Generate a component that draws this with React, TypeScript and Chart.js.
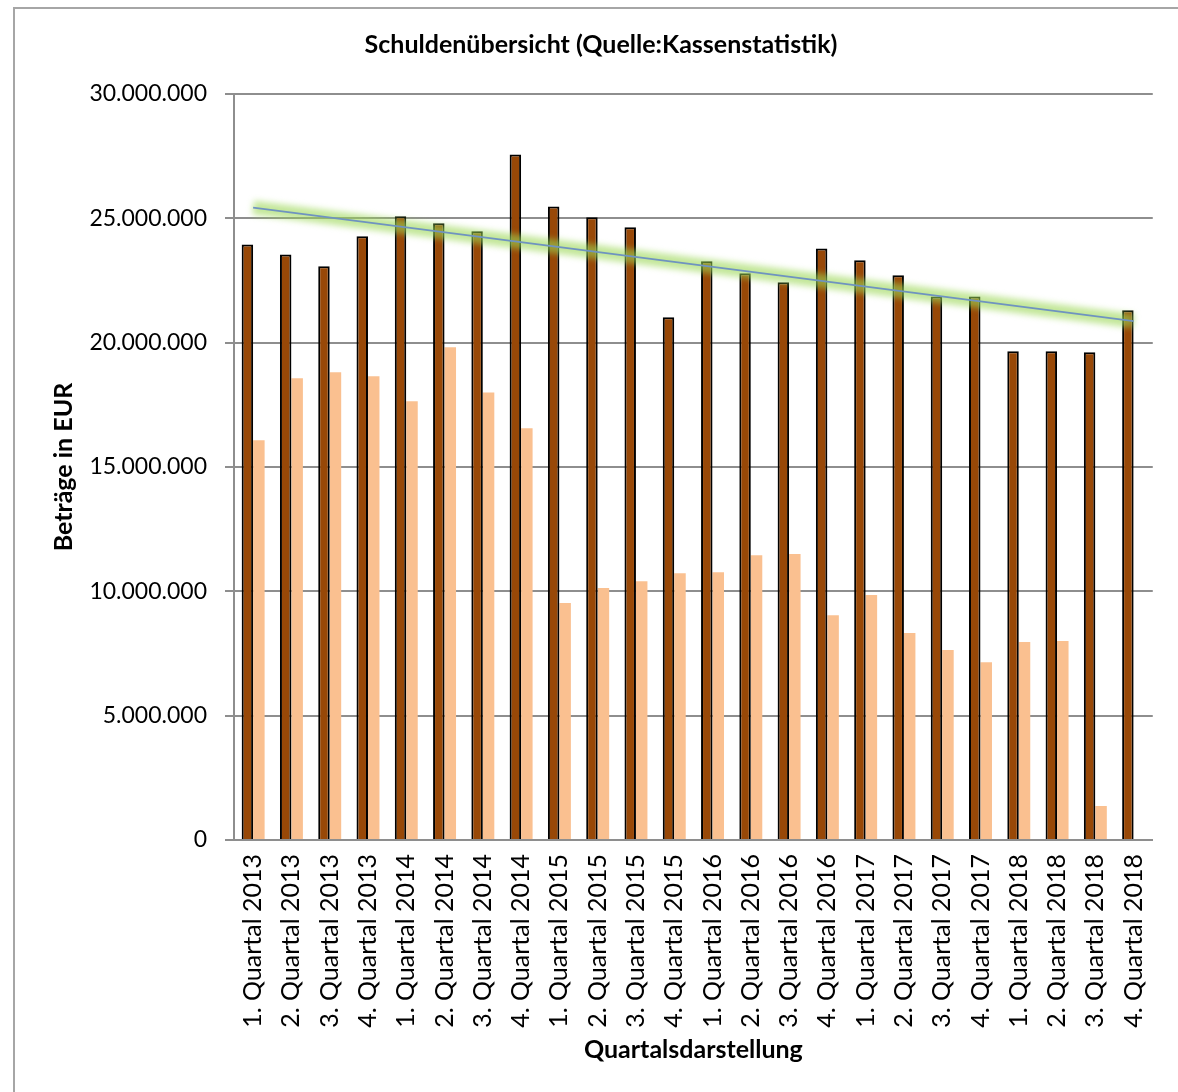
import { useEffect, useRef } from 'react';
import { Chart, registerables } from 'chart.js';

Chart.register(...registerables);

const categories = [
  '1. Quartal 2013', '2. Quartal 2013', '3. Quartal 2013', '4. Quartal 2013',
  '1. Quartal 2014', '2. Quartal 2014', '3. Quartal 2014', '4. Quartal 2014',
  '1. Quartal 2015', '2. Quartal 2015', '3. Quartal 2015', '4. Quartal 2015',
  '1. Quartal 2016', '2. Quartal 2016', '3. Quartal 2016', '4. Quartal 2016',
  '1. Quartal 2017', '2. Quartal 2017', '3. Quartal 2017', '4. Quartal 2017',
  '1. Quartal 2018', '2. Quartal 2018', '3. Quartal 2018', '4. Quartal 2018',
];

const schuldenGesamt = [
  23950000, 23550000, 23070000, 24280000,
  25080000, 24800000, 24480000, 27570000,
  25480000, 25040000, 24640000, 21020000,
  23270000, 22790000, 22430000, 23790000,
  23310000, 22710000, 21860000, 21860000,
  19650000, 19650000, 19610000, 21300000,
];

const kassenkredite = [
  16080000, 18570000, 18810000, 18650000,
  17640000, 19820000, 18000000, 16560000,
  9530000, 10130000, 10410000, 10730000,
  10770000, 11450000, 11500000, 9040000,
  9850000, 8320000, 7640000, 7150000,
  7960000, 8000000, 1370000, null,
];

const trendStart = 25430000;
const trendEnd = 20870000;

const yMin = 0;
const yMax = 30000000;
const yStep = 5000000;

const titleText = 'Schuldenübersicht (Quelle:Kassenstatistik)';
const yTitleText = 'Beträge in EUR';
const xTitleText = 'Quartalsdarstellung';

const FONT = 'Lato, "Open Sans", sans-serif';

function formatDE(v: number): string {
  const s = Math.round(v).toString();
  return s.replace(/\B(?=(\d{3})+(?!\d))/g, '.');
}

export default function App() {
  const ref = useRef<HTMLCanvasElement | null>(null);

  useEffect(() => {
    if (!ref.current) return;
    const trendData = categories.map((_, i) =>
      i === 0 ? trendStart : i === categories.length - 1 ? trendEnd : null
    );

    const glowPlugin = {
      id: 'glow',
      beforeDatasetDraw(chart: any, args: any) {
        if (args.index === 2) {
          chart.ctx.save();
          chart.ctx.filter = 'blur(3px)';
        }
      },
      afterDatasetDraw(chart: any, args: any) {
        if (args.index === 2) {
          chart.ctx.restore();
        }
      },
    };

    const framePlugin = {
      id: 'frame',
      beforeDraw(chart: any) {
        const ctx = chart.ctx;
        ctx.save();
        ctx.fillStyle = '#ffffff';
        ctx.fillRect(0, 0, chart.width, chart.height);
        ctx.strokeStyle = '#a6a6a6';
        ctx.lineWidth = 2;
        ctx.strokeRect(14, 8, chart.width + 20, chart.height + 20);
        ctx.restore();
      },
      afterDraw(chart: any) {
        const ctx = chart.ctx;
        const area = chart.chartArea;
        ctx.save();
        ctx.fillStyle = '#000000';
        ctx.textAlign = 'center';
        ctx.textBaseline = 'middle';
        ctx.font = `bold 25px ${FONT}`;
        ctx.fillText(titleText, 601, 45);
        ctx.font = `bold 25px ${FONT}`;
        ctx.fillText(xTitleText, (area.left + area.right) / 2, 1050);
        ctx.translate(64, (area.top + area.bottom) / 2);
        ctx.rotate(-Math.PI / 2);
        ctx.fillText(yTitleText, 0, 0);
        ctx.restore();
      },
    };

    const chart = new Chart(ref.current, {
      type: 'bar',
      data: {
        labels: categories,
        datasets: [
          {
            type: 'line',
            label: 'Trend',
            data: trendData,
            borderColor: '#6f93c0',
            borderWidth: 1.75,
            pointRadius: 0,
            spanGaps: true,
            order: -2,
          } as any,
          {
            type: 'bar',
            label: 'Schulden gesamt',
            data: schuldenGesamt,
            backgroundColor: '#984807',
            borderColor: '#000000',
            borderWidth: 2,
            categoryPercentage: 0.6,
            barPercentage: 1.0,
            order: 1,
          },
          {
            type: 'line',
            label: 'Trend-Glow',
            data: trendData,
            borderColor: 'rgba(155, 215, 85, 0.6)',
            borderWidth: 14,
            pointRadius: 0,
            spanGaps: true,
            order: -1,
          } as any,
          {
            type: 'bar',
            label: 'Kassenkredite',
            data: kassenkredite,
            backgroundColor: '#fac090',
            borderWidth: 0,
            categoryPercentage: 0.6,
            barPercentage: 1.0,
            order: 1,
          },
        ],
      },
      options: {
        animation: false,
        responsive: false,
        maintainAspectRatio: false,
        layout: { padding: { top: 94, right: 18, left: 0, bottom: 0 } },
        plugins: {
          legend: { display: false },
          title: { display: false },
          tooltip: { enabled: false },
        },
        scales: {
          x: {
            grid: { display: false, drawTicks: false },
            border: { display: true, color: '#8e8e8e', width: 2 },
            ticks: {
              autoSkip: false,
              minRotation: 90,
              maxRotation: 90,
              padding: 14,
              color: '#000000',
              font: { family: FONT, size: 25 },
            },
            afterFit(scale: any) {
              scale.height = 252;
            },
          },
          y: {
            min: yMin,
            max: yMax,
            grid: { color: '#8e8e8e', lineWidth: 2, tickLength: 9, drawTicks: true },
            border: { display: true, color: '#8e8e8e', width: 2 },
            ticks: {
              stepSize: yStep,
              padding: 18,
              color: '#000000',
              font: { family: FONT, size: 23 },
              callback: (v: any) => formatDE(Number(v)),
            },
            afterFit(scale: any) {
              scale.width = 234;
            },
          },
        },
      },
      plugins: [framePlugin, glowPlugin],
    });
    return () => chart.destroy();
  }, []);

  return (
    <div style={{ position: 'absolute', left: 0, top: 0, width: 1178, height: 1092, background: '#fff' }}>
      <canvas ref={ref} width={1178} height={1092} style={{ display: 'block' }} />
    </div>
  );
}
